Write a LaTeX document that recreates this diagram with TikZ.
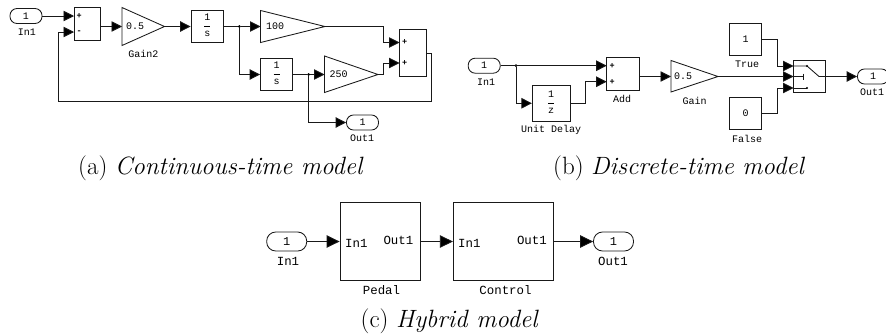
\documentclass[tikz,border=0pt]{standalone}
\usepackage{fontspec}
\setmonofont{Liberation Mono}
\usetikzlibrary{arrows.meta}
\tikzset{
  x=1pt,y=-1pt,
  wire/.style={line width=.85pt,draw=black!90},
  conn/.style={wire,-{Triangle[length=10.5pt,width=10.5pt,fill=black]}},
  bigconn/.style={wire,-{Triangle[length=13pt,width=12.5pt,fill=black]}},
  block/.style={draw=black!90,line width=.85pt,rectangle,inner sep=0pt,fill=white,text=black,font=\ttfamily\fontsize{10}{11}\selectfont},
  port/.style={block,rounded corners=7pt,minimum width=32pt,minimum height=15pt},
  bigport/.style={block,rounded corners=9pt,minimum width=40pt,minimum height=19pt,font=\ttfamily\fontsize{12}{13}\selectfont},
  lab/.style={inner sep=0pt,text=black,font=\ttfamily\fontsize{10}{11}\selectfont},
  biglab/.style={inner sep=0pt,text=black,font=\ttfamily\fontsize{12.4}{13}\selectfont},
  tiny/.style={inner sep=0pt,text=black,font=\ttfamily\bfseries\fontsize{8.5}{8.5}\selectfont},
  gainshape/.style={draw=black!90,line width=.85pt,line join=miter},
  captext/.style={inner sep=0pt,anchor=base west,font=\fontsize{25}{27}\selectfont},
  dot/.style={circle,fill=black,inner sep=0pt,minimum size=3pt},
}
\newcommand{\frc}[2]{\begin{tabular}{@{}c@{}}#1\\[-3pt]\rule[2pt]{6pt}{.6pt}\\[-3pt]#2\end{tabular}}
\begin{document}
\begin{tikzpicture}
\useasboundingbox (0,0) rectangle (886,333);
% ---------- (a)
\node[port] (aIn) at (26,16) {1};
\node[lab] (aInL) at (27,32) {In1};
\node[block,minimum width=26.5pt,minimum height=33.5pt] (aSum) at (87.25,23.75) {};
\coordinate (aS1) at (74,16); \coordinate (aS2) at (74,32);
\node[tiny,anchor=west] (aP) at (76.5,16) {+};
\node[tiny,anchor=west] (aM) at (76.5,32) {-};
\coordinate (g2i) at (122,26.5); \coordinate (g2o) at (164.5,26.5);
\draw[gainshape] (122,7.5) -- (122,45.5) -- (g2o) -- cycle;
\node[lab,anchor=west] (g2t) at (126,26.5) {0.5};
\node[lab] (g2l) at (143.5,54) {Gain2};
\node[block,minimum width=32.5pt,minimum height=32pt] (int1) at (207.25,26.5) {\frc{1}{s}};
\node[dot] (d1) at (239.3,26.5) {};
\coordinate (g1i) at (260.5,26.5); \coordinate (g1o) at (325,26.5);
\draw[gainshape] (260.5,10.5) -- (260.5,42.5) -- (g1o) -- cycle;
\node[lab,anchor=west] (g1t) at (266,26.5) {100};
\node[block,minimum width=32pt,minimum height=32pt] (int2) at (276.5,74.5) {\frc{1}{s}};
\node[dot] (d2) at (308.7,74.5) {};
\coordinate (g3i) at (324.5,74.5); \coordinate (g3o) at (378,74.5);
\draw[gainshape] (324.5,56) -- (324.5,92.5) -- (g3o) -- cycle;
\node[lab,anchor=west] (g3t) at (329.5,74.5) {250};
\node[block,minimum width=26.5pt,minimum height=47pt] (aSum2) at (412.75,53) {};
\coordinate (bS1) at (399.5,42.5); \coordinate (bS2) at (399.5,63);
\node[tiny,anchor=west] (aP1) at (402,42.5) {+};
\node[tiny,anchor=west] (aP2) at (402,63) {+};
\node[port] (aOut) at (362.5,122.5) {1};
\node[lab] (aOutL) at (362,138) {Out1};
\coordinate (m1) at (383.3,0);
\coordinate (fbR) at (431.7,101);
\coordinate (fbL) at (58,101);
\draw[conn] (aIn) -- (aS1);
\draw[conn] (aSum.east |- g2i) -- (g2i);
\draw[conn] (g2o) -- (int1.west);
\draw[wire] (int1.east) -- (d1);
\draw[conn] (d1) -- (g1i);
\draw[conn] (d1) |- (int2.west);
\draw[wire] (int2.east) -- (d2);
\draw[conn] (d2) -- (g3i);
\draw[conn] (d2) |- (aOut.west);
\draw[conn] (g1o) -- (m1 |- g1o) -- (m1 |- bS1) -- (bS1);
\draw[conn] (g3o) -- (m1 |- g3o) -- (m1 |- bS2) -- (bS2);
\draw[wire] (aSum2.east) -- (fbR |- aSum2.east) -- (fbR) -- (fbL);
\draw[conn] (fbL) |- (aS2);
\node[captext] (capA) at (78,174.3) {(a) \itshape Continuous-time model};
% ---------- (b)
\node[port] (bIn) at (484.2,65.7) {1};
\node[lab] (bInL) at (486,82) {In1};
\node[dot] (d3) at (516,65.7) {};
\node[block,minimum width=32.3pt,minimum height=33pt] (add) at (622.85,74) {};
\coordinate (cS1) at (606.7,65.7); \coordinate (cS2) at (606.7,81.7);
\node[tiny,anchor=west] (bP1) at (609.5,65.7) {+};
\node[tiny,anchor=west] (bP2) at (609.5,81.7) {+};
\node[lab] (addL) at (622,99) {Add};
\node[block,minimum width=37.7pt,minimum height=36.5pt] (ud) at (551.15,103.25) {\frc{1}{z}};
\node[lab] (udL) at (551,129.5) {Unit Delay};
\coordinate (m2) at (585.7,0);
\coordinate (g4i) at (671,76.5); \coordinate (g4o) at (718,76.5);
\draw[gainshape] (671,60.5) -- (671,92) -- (g4o) -- cycle;
\node[lab,anchor=west] (g4t) at (674,76.5) {0.5};
\node[lab] (g4l) at (694.5,101) {Gain};
\node[block,minimum width=32pt,minimum height=32pt] (tr) at (745.5,39) {1};
\node[lab] (trL) at (747,64) {True};
\node[block,minimum width=32pt,minimum height=32pt] (fa) at (745.5,113.5) {0};
\node[lab] (faL) at (747,139) {False};
\node[block,minimum width=32pt,minimum height=31.5pt] (sw) at (809.5,76.25) {};
\coordinate (sw1) at (793.5,66); \coordinate (sw2) at (793.5,76.5); \coordinate (sw3) at (793.5,88);
\coordinate (m3) at (777.5,0);
\coordinate (swA) at (807,66); \coordinate (swB) at (819,76.5); \coordinate (swC) at (803,76.5); \coordinate (swD) at (807,88);
\node[port,minimum width=31pt] (bOut) at (873,76.5) {1};
\node[lab] (bOutL) at (872,92) {Out1};
\draw[conn] (bIn) -- (cS1);
\draw[conn] (d3) |- (ud.west);
\draw[conn] (ud.east) -- (m2 |- ud.east) -- (m2 |- cS2) -- (cS2);
\draw[conn] (add.east |- g4i) -- (g4i);
\draw[conn] (tr.east) -- (m3 |- tr.east) -- (m3 |- sw1) -- (sw1);
\draw[conn] (fa.east) -- (m3 |- fa.east) -- (m3 |- sw3) -- (sw3);
\draw[conn] (g4o) -- (sw2);
\draw[wire] (sw1) -- (swA) -- (swB) -- (sw.east |- swB);
\draw[wire] (sw2) -- (swC);
\draw[wire] (sw3) -- (swD);
\draw[wire,line width=1pt] (803,73.5) -- (803,79.5);
\fill[black] (swA) circle (1.2pt) (swD) circle (1.2pt);
\draw[conn] (sw.east |- swB) -- (bOut.west);
\node[captext] (capB) at (553,174.3) {(b) \itshape Discrete-time model};
% ---------- (c)
\node[bigport] (cIn) at (286.7,241.5) {1};
\node[biglab] (cInL) at (288,261) {In1};
\node[block,minimum width=80.3pt,minimum height=77.3pt] (ped) at (380.15,241.35) {};
\node[biglab,anchor=west] (pi) at (345,243.5) {In1};
\node[biglab,anchor=east] (po) at (413.5,240.5) {Out1};
\node[biglab] (pl) at (381.5,290) {Pedal};
\node[block,minimum width=100pt,minimum height=77.3pt] (ctl) at (503.3,241.35) {};
\node[biglab,anchor=west] (ci) at (458,243.5) {In1};
\node[biglab,anchor=east] (co) at (547,240.5) {Out1};
\node[biglab] (cl) at (505.5,290) {Control};
\node[bigport] (cOut) at (613.5,241.5) {1};
\node[biglab] (cOutL) at (613,261) {Out1};
\draw[bigconn] (cIn) -- (ped.west |- cIn);
\draw[bigconn] (ped.east |- cIn) -- (ctl.west |- cIn);
\draw[bigconn] (ctl.east |- cIn) -- (cOut.west);
\node[captext] (capC) at (360.5,327.3) {(c) \itshape Hybrid model};
\end{tikzpicture}
\end{document}
